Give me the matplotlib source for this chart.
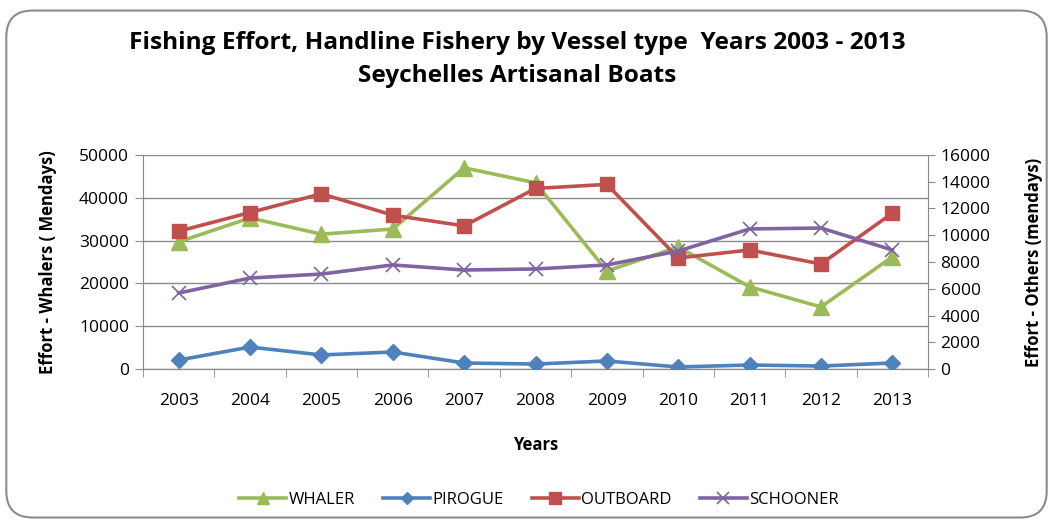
import matplotlib
matplotlib.use("Agg")
import matplotlib.pyplot as plt
from matplotlib.patches import FancyBboxPatch

years = ["2003", "2004", "2005", "2006", "2007", "2008", "2009", "2010", "2011", "2012", "2013"]
whaler = [29700, 35300, 31500, 32700, 47000, 43500, 22900, 28500, 19200, 14500, 26200]
pirogue = [670, 1640, 1050, 1270, 450, 370, 600, 150, 300, 220, 450]
outboard = [10300, 11700, 13100, 11500, 10700, 13500, 13800, 8300, 8900, 7850, 11650]
schooner = [5680, 6800, 7100, 7780, 7400, 7480, 7780, 8820, 10470, 10540, 8900]

c_wh, c_pi, c_ob, c_sc = "#9BBB59", "#4F81BD", "#C0504D", "#8064A2"
font = "Open Sans"
plt.rcParams['font.family'] = [font, 'DejaVu Sans']

fig = plt.figure(figsize=(10.53, 5.27), dpi=100)
fig.patch.set_facecolor("white")
frame = FancyBboxPatch((0.006, 0.018), 0.988, 0.962, boxstyle="round,pad=0,rounding_size=0.025",
                       transform=fig.transFigure, facecolor="white", edgecolor="#8c8c8c",
                       linewidth=1.5, zorder=-10, mutation_aspect=2.0)
fig.patches.append(frame)

ax = fig.add_axes([0.1358, 0.2998, 0.7455, 0.4061])
ax.set_facecolor("none")
x = list(range(len(years)))
ax2 = ax.twinx()
ax2.set_facecolor("none")

lw = 2.6
l_wh, = ax.plot(x, whaler, color=c_wh, lw=lw, marker="^", ms=11, label="WHALER", zorder=3)
l_pi, = ax2.plot(x, pirogue, color=c_pi, lw=lw, marker="D", ms=8, label="PIROGUE", zorder=3)
l_ob, = ax2.plot(x, outboard, color=c_ob, lw=lw, marker="s", ms=10.5, label="OUTBOARD", zorder=3)
l_sc, = ax2.plot(x, schooner, color=c_sc, lw=lw, marker="x", ms=10, mew=1.2, label="SCHOONER", zorder=3)

ts = 12.5
ax.set_xlim(-0.5, len(years) - 0.5)
ax.set_ylim(0, 50000)
ax2.set_ylim(0, 16000)
ax.set_yticks(range(0, 50001, 10000))
ax2.set_yticks(range(0, 16001, 2000))
ax.set_xticks(x)
ax.set_xticklabels(years)
ax.set_xticks([i + 0.5 for i in range(-1, len(years))], minor=True)
ax.tick_params(axis="x", which="major", length=0, pad=17, labelsize=ts)
ax.tick_params(axis="x", which="minor", length=6, color="#888888")
ax.tick_params(axis="y", length=6, color="#888888", labelsize=ts, pad=4)
ax2.tick_params(axis="y", length=5, color="#888888", labelsize=ts, pad=4)
ax.grid(axis="y", color="#8a8a8a", lw=1.0)
ax.set_axisbelow(True)
for a in (ax, ax2):
    a.spines["top"].set_visible(False)
    for s in ("left", "right", "bottom"):
        a.spines[s].set_color("#8a8a8a")
ax.spines["right"].set_visible(False)
ax2.spines["left"].set_visible(False)

ax.set_xlabel("Years", fontsize=12, fontweight="bold", labelpad=20)
ax.set_ylabel("Effort - Whalers ( Mendays)", fontsize=12, fontweight="bold", labelpad=16)
ax2.set_ylabel("Effort - Others (mendays)", fontsize=12, fontweight="bold", labelpad=25)

fig.text(0.491, 0.918, "Fishing Effort, Handline Fishery by Vessel type  Years 2003 - 2013",
         ha="center", va="center", fontsize=17.6, fontweight="bold")
fig.text(0.491, 0.855, "Seychelles Artisanal Boats", ha="center", va="center",
         fontsize=17.6, fontweight="bold")

handles = [l_wh, l_pi, l_ob, l_sc]
fig.legend(handles, [h.get_label() for h in handles], loc="center", bbox_to_anchor=(0.512, 0.052),
           ncol=4, frameon=False, fontsize=12, handlelength=2.8, columnspacing=1.7,
           handletextpad=0.15, markerscale=0.8)

fig.savefig("out.png", dpi=100)
